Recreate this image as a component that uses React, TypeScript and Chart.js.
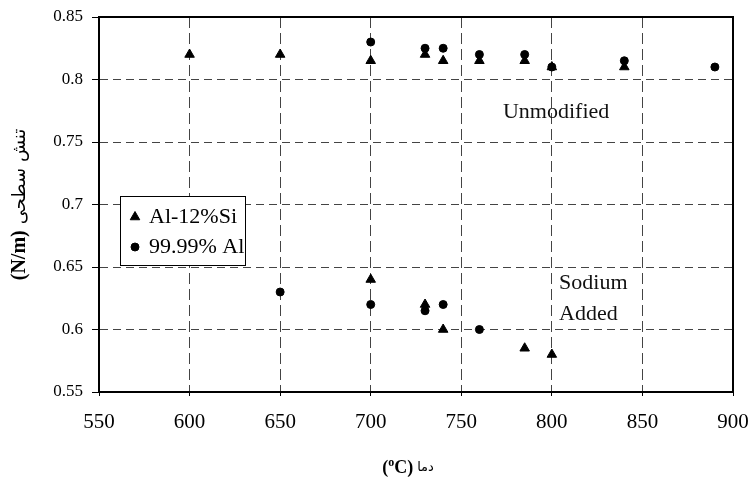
import React, { useEffect, useRef } from "react";
import { Chart, registerables, Plugin } from "chart.js";
import { drawPoint } from "chart.js/helpers";

Chart.register(...registerables);

// surface tension of molten Al alloys vs temperature
const alSiTemps = [600, 650, 700, 730, 740, 760, 785, 800, 840];
const alSiUnmodified = [0.82, 0.82, 0.815, 0.82, 0.815, 0.815, 0.815, 0.81, 0.81];
const alSiSodiumTemps = [700, 730, 740, 785, 800];
const alSiSodium = [0.64, 0.62, 0.6, 0.585, 0.58];

const pureAlTemps = [700, 730, 740, 760, 785, 800, 840, 890];
const pureAlUnmodified = [0.83, 0.825, 0.825, 0.82, 0.82, 0.81, 0.815, 0.81];
const pureAlSodiumTemps = [650, 700, 730, 740, 760];
const pureAlSodium = [0.63, 0.62, 0.615, 0.62, 0.6];

const xTicks = [550, 600, 650, 700, 750, 800, 850, 900];
const yTicks = [0.55, 0.6, 0.65, 0.7, 0.75, 0.8, 0.85];

const seriesNames = ["Al-12%Si", "99.99% Al"];
const notes = [
  { text: "Unmodified", x: 773, y: 0.774 },
  { text: "Sodium", x: 804, y: 0.637 },
  { text: "Added", x: 804, y: 0.612 },
];

const SERIF = "'Liberation Serif', 'Times New Roman', serif";
const ARABIC = "'DejaVu Sans', sans-serif";

const toPoints = (xs: number[], ys: number[]) => xs.map((x, i) => ({ x, y: ys[i] }));

const extras: Plugin = {
  id: "extras",
  afterDraw(chart) {
    const { ctx, chartArea: a } = chart;
    const xs = chart.scales.x;
    const ys = chart.scales.y;
    ctx.save();

    // frame
    ctx.strokeStyle = "#000";
    ctx.lineWidth = 2;
    ctx.strokeRect(a.left, a.top, a.right - a.left, a.bottom - a.top);

    // notes in the plot
    ctx.fillStyle = "#111";
    ctx.font = `22px ${SERIF}`;
    ctx.textAlign = "left";
    ctx.textBaseline = "middle";
    notes.forEach((n) => {
      ctx.fillText(n.text, xs.getPixelForValue(n.x), ys.getPixelForValue(n.y));
    });

    // legend box
    const lx = 120, ly = 196, lw = 125, lh = 69;
    ctx.fillStyle = "#fff";
    ctx.fillRect(lx, ly, lw, lh);
    ctx.strokeStyle = "#000";
    ctx.lineWidth = 1;
    ctx.strokeRect(lx + 0.5, ly + 0.5, lw, lh);
    ctx.font = `22px ${SERIF}`;
    chart.data.datasets.forEach((ds: any, i) => {
      const cy = ly + 21 + i * 30;
      ctx.fillStyle = "#000";
      ctx.strokeStyle = "#000";
      drawPoint(ctx, { pointStyle: ds.pointStyle, radius: ds.pointRadius, rotation: 0, borderWidth: 1 }, lx + 15, cy);
      ctx.fillText(seriesNames[i], lx + 29, cy);
    });

    // y title
    ctx.save();
    ctx.translate(20, (a.top + a.bottom) / 2);
    ctx.rotate(-Math.PI / 2);
    const unitY = "(N/m)";
    const wordY = "تنش سطحی";
    ctx.font = `bold 20px ${SERIF}`;
    const w1 = ctx.measureText(unitY).width;
    ctx.font = `18px ${ARABIC}`;
    const w2 = ctx.measureText(wordY).width;
    const gap = 6;
    let px = -(w1 + gap + w2) / 2;
    ctx.font = `bold 20px ${SERIF}`;
    ctx.fillText(unitY, px, 0);
    px += w1 + gap;
    ctx.font = `18px ${ARABIC}`;
    ctx.fillText(wordY, px, 0);
    ctx.restore();

    // x title: (°C) دما
    const ty = 468;
    const parts = [
      { t: "(", f: `bold 18px ${SERIF}`, dy: 0 },
      { t: "o", f: `bold 12px ${SERIF}`, dy: -5 },
      { t: "C", f: `bold 18px ${SERIF}`, dy: 0 },
      { t: ")", f: `bold 18px ${SERIF}`, dy: 0 },
      { t: " ", f: `bold 16px ${SERIF}`, dy: 0 },
      { t: "دما", f: `13px ${ARABIC}`, dy: 0 },
    ];
    const widths = parts.map((p) => {
      ctx.font = p.f;
      return ctx.measureText(p.t).width;
    });
    let tx = (a.left + a.right) / 2 - 8 - widths.reduce((s, w) => s + w, 0) / 2;
    parts.forEach((p, i) => {
      ctx.font = p.f;
      ctx.fillText(p.t, tx, ty + p.dy);
      tx += widths[i];
    });

    ctx.restore();
  },
};

const App = () => {
  const ref = useRef<HTMLCanvasElement>(null!);

  useEffect(() => {
    document.body.style.margin = "0";
    const chart = new Chart(ref.current, {
      type: "scatter",
      data: {
        datasets: [
          {
            label: seriesNames[0],
            data: [...toPoints(alSiTemps, alSiUnmodified), ...toPoints(alSiSodiumTemps, alSiSodium)],
            pointStyle: "triangle",
            pointRadius: 5.5,
            backgroundColor: "#000",
            borderColor: "#000",
            borderWidth: 1,
          },
          {
            label: seriesNames[1],
            data: [...toPoints(pureAlTemps, pureAlUnmodified), ...toPoints(pureAlSodiumTemps, pureAlSodium)],
            pointStyle: "circle",
            pointRadius: 4,
            backgroundColor: "#000",
            borderColor: "#000",
            borderWidth: 1,
          },
        ],
      },
      options: {
        animation: false,
        responsive: true,
        maintainAspectRatio: false,
        layout: { padding: { left: 0, top: 17, right: 19, bottom: 0 } },
        plugins: { legend: { display: false }, tooltip: { enabled: false } },
        scales: {
          x: {
            type: "linear",
            min: 550,
            max: 900,
            afterBuildTicks: (s) => {
              s.ticks = xTicks.map((value) => ({ value }));
            },
            afterFit: (s: any) => {
              s.height = 85;
              s.paddingLeft = 0;
              s.paddingRight = 0;
            },
            ticks: {
              color: "#000",
              padding: 14,
              font: { family: SERIF, size: 21 },
              callback: (v) => String(v),
            },
            grid: { color: "#444", lineWidth: 1, tickLength: 4, tickColor: "#000" },
            border: { display: true, color: "#000", width: 2, dash: [11, 5] },
          },
          y: {
            type: "linear",
            min: 0.55,
            max: 0.85,
            afterBuildTicks: (s) => {
              s.ticks = yTicks.map((value) => ({ value }));
            },
            afterFit: (s: any) => {
              s.width = 99;
              s.paddingTop = 0;
              s.paddingBottom = 0;
            },
            ticks: {
              color: "#000",
              padding: 9,
              font: { family: SERIF, size: 17 },
              callback: (v) => String(Number(Number(v).toFixed(2))),
            },
            grid: { color: "#444", lineWidth: 1, tickLength: 7, tickColor: "#000" },
            border: { display: true, color: "#000", width: 2, dash: [8, 5] },
          },
        },
      },
      plugins: [extras],
    });
    return () => {
      chart.destroy();
    };
  }, []);

  return (
    <div style={{ position: "absolute", left: 0, top: 0, width: 752, height: 477, background: "#fff" }}>
      <canvas ref={ref} />
    </div>
  );
};

export default App;
